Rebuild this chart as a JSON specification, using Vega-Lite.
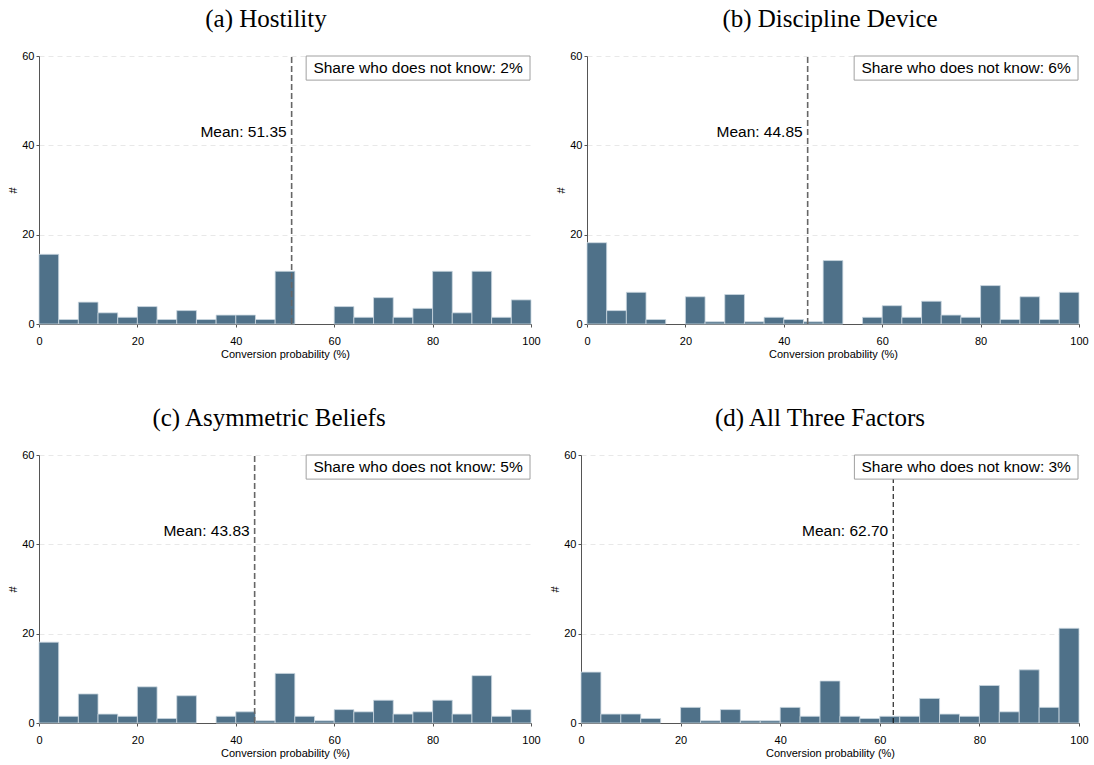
{
  "$schema": "https://vega.github.io/schema/vega-lite/v6.json",
  "background": "white",
  "padding": {"left": 7, "top": 7, "right": 4, "bottom": 4},
  "datasets": {
    "bars": [
      {"panel": "a", "lo": 0, "hi": 4, "count": 15.6},
      {"panel": "a", "lo": 4, "hi": 8, "count": 1.0},
      {"panel": "a", "lo": 8, "hi": 12, "count": 4.9},
      {"panel": "a", "lo": 12, "hi": 16, "count": 2.5},
      {"panel": "a", "lo": 16, "hi": 20, "count": 1.5},
      {"panel": "a", "lo": 20, "hi": 24, "count": 3.9},
      {"panel": "a", "lo": 24, "hi": 28, "count": 1.0},
      {"panel": "a", "lo": 28, "hi": 32, "count": 3.0},
      {"panel": "a", "lo": 32, "hi": 36, "count": 1.0},
      {"panel": "a", "lo": 36, "hi": 40, "count": 2.0},
      {"panel": "a", "lo": 40, "hi": 44, "count": 2.0},
      {"panel": "a", "lo": 44, "hi": 48, "count": 1.0},
      {"panel": "a", "lo": 48, "hi": 52, "count": 11.8},
      {"panel": "a", "lo": 60, "hi": 64, "count": 3.9},
      {"panel": "a", "lo": 64, "hi": 68, "count": 1.5},
      {"panel": "a", "lo": 68, "hi": 72, "count": 5.9},
      {"panel": "a", "lo": 72, "hi": 76, "count": 1.5},
      {"panel": "a", "lo": 76, "hi": 80, "count": 3.5},
      {"panel": "a", "lo": 80, "hi": 84, "count": 11.8},
      {"panel": "a", "lo": 84, "hi": 88, "count": 2.5},
      {"panel": "a", "lo": 88, "hi": 92, "count": 11.8},
      {"panel": "a", "lo": 92, "hi": 96, "count": 1.5},
      {"panel": "a", "lo": 96, "hi": 100, "count": 5.4},

      {"panel": "b", "lo": 0, "hi": 4, "count": 18.2},
      {"panel": "b", "lo": 4, "hi": 8, "count": 3.0},
      {"panel": "b", "lo": 8, "hi": 12, "count": 7.1},
      {"panel": "b", "lo": 12, "hi": 16, "count": 1.0},
      {"panel": "b", "lo": 20, "hi": 24, "count": 6.1},
      {"panel": "b", "lo": 24, "hi": 28, "count": 0.5},
      {"panel": "b", "lo": 28, "hi": 32, "count": 6.6},
      {"panel": "b", "lo": 32, "hi": 36, "count": 0.5},
      {"panel": "b", "lo": 36, "hi": 40, "count": 1.5},
      {"panel": "b", "lo": 40, "hi": 44, "count": 1.0},
      {"panel": "b", "lo": 44, "hi": 48, "count": 0.5},
      {"panel": "b", "lo": 48, "hi": 52, "count": 14.2},
      {"panel": "b", "lo": 56, "hi": 60, "count": 1.5},
      {"panel": "b", "lo": 60, "hi": 64, "count": 4.1},
      {"panel": "b", "lo": 64, "hi": 68, "count": 1.5},
      {"panel": "b", "lo": 68, "hi": 72, "count": 5.1},
      {"panel": "b", "lo": 72, "hi": 76, "count": 2.0},
      {"panel": "b", "lo": 76, "hi": 80, "count": 1.5},
      {"panel": "b", "lo": 80, "hi": 84, "count": 8.6},
      {"panel": "b", "lo": 84, "hi": 88, "count": 1.0},
      {"panel": "b", "lo": 88, "hi": 92, "count": 6.1},
      {"panel": "b", "lo": 92, "hi": 96, "count": 1.0},
      {"panel": "b", "lo": 96, "hi": 100, "count": 7.1},

      {"panel": "c", "lo": 0, "hi": 4, "count": 18.1},
      {"panel": "c", "lo": 4, "hi": 8, "count": 1.5},
      {"panel": "c", "lo": 8, "hi": 12, "count": 6.5},
      {"panel": "c", "lo": 12, "hi": 16, "count": 2.0},
      {"panel": "c", "lo": 16, "hi": 20, "count": 1.5},
      {"panel": "c", "lo": 20, "hi": 24, "count": 8.1},
      {"panel": "c", "lo": 24, "hi": 28, "count": 1.0},
      {"panel": "c", "lo": 28, "hi": 32, "count": 6.1},
      {"panel": "c", "lo": 36, "hi": 40, "count": 1.5},
      {"panel": "c", "lo": 40, "hi": 44, "count": 2.5},
      {"panel": "c", "lo": 44, "hi": 48, "count": 0.5},
      {"panel": "c", "lo": 48, "hi": 52, "count": 11.1},
      {"panel": "c", "lo": 52, "hi": 56, "count": 1.5},
      {"panel": "c", "lo": 56, "hi": 60, "count": 0.5},
      {"panel": "c", "lo": 60, "hi": 64, "count": 3.0},
      {"panel": "c", "lo": 64, "hi": 68, "count": 2.5},
      {"panel": "c", "lo": 68, "hi": 72, "count": 5.1},
      {"panel": "c", "lo": 72, "hi": 76, "count": 2.0},
      {"panel": "c", "lo": 76, "hi": 80, "count": 2.5},
      {"panel": "c", "lo": 80, "hi": 84, "count": 5.1},
      {"panel": "c", "lo": 84, "hi": 88, "count": 2.0},
      {"panel": "c", "lo": 88, "hi": 92, "count": 10.6},
      {"panel": "c", "lo": 92, "hi": 96, "count": 1.5},
      {"panel": "c", "lo": 96, "hi": 100, "count": 3.0},

      {"panel": "d", "lo": 0, "hi": 4, "count": 11.4},
      {"panel": "d", "lo": 4, "hi": 8, "count": 2.0},
      {"panel": "d", "lo": 8, "hi": 12, "count": 2.0},
      {"panel": "d", "lo": 12, "hi": 16, "count": 1.0},
      {"panel": "d", "lo": 20, "hi": 24, "count": 3.5},
      {"panel": "d", "lo": 24, "hi": 28, "count": 0.5},
      {"panel": "d", "lo": 28, "hi": 32, "count": 3.0},
      {"panel": "d", "lo": 32, "hi": 36, "count": 0.5},
      {"panel": "d", "lo": 36, "hi": 40, "count": 0.5},
      {"panel": "d", "lo": 40, "hi": 44, "count": 3.5},
      {"panel": "d", "lo": 44, "hi": 48, "count": 1.5},
      {"panel": "d", "lo": 48, "hi": 52, "count": 9.4},
      {"panel": "d", "lo": 52, "hi": 56, "count": 1.5},
      {"panel": "d", "lo": 56, "hi": 60, "count": 1.0},
      {"panel": "d", "lo": 60, "hi": 64, "count": 1.5},
      {"panel": "d", "lo": 64, "hi": 68, "count": 1.5},
      {"panel": "d", "lo": 68, "hi": 72, "count": 5.5},
      {"panel": "d", "lo": 72, "hi": 76, "count": 2.0},
      {"panel": "d", "lo": 76, "hi": 80, "count": 1.5},
      {"panel": "d", "lo": 80, "hi": 84, "count": 8.4},
      {"panel": "d", "lo": 84, "hi": 88, "count": 2.5},
      {"panel": "d", "lo": 88, "hi": 92, "count": 11.9},
      {"panel": "d", "lo": 92, "hi": 96, "count": 3.5},
      {"panel": "d", "lo": 96, "hi": 100, "count": 21.2}
    ],
    "meta": [
      {"panel": "a", "mean": 51.35, "meanLabel": "Mean: 51.35", "dkLabel": "Share who does not know: 2%"},
      {"panel": "b", "mean": 44.85, "meanLabel": "Mean: 44.85", "dkLabel": "Share who does not know: 6%"},
      {"panel": "c", "mean": 43.83, "meanLabel": "Mean: 43.83", "dkLabel": "Share who does not know: 5%"},
      {"panel": "d", "mean": 62.70, "meanLabel": "Mean: 62.70", "dkLabel": "Share who does not know: 3%"}
    ]
  },
  "config": {
    "view": {"stroke": null},
    "title": {"font": "Liberation Serif", "fontSize": 25, "fontWeight": "normal", "color": "#000000", "anchor": "middle", "frame": "group", "baseline": "alphabetic", "offset": 18},
    "axis": {
      "labelFont": "Liberation Sans", "titleFont": "Liberation Sans",
      "labelFontSize": 11, "titleFontSize": 11, "titleFontWeight": "normal",
      "labelColor": "#000000", "titleColor": "#000000",
      "domainColor": "#555555", "tickColor": "#555555", "tickSize": 3,
      "labelPadding": 2
    },
    "axisX": {"grid": false, "labelFlush": false, "labelPadding": 8, "titlePadding": 2},
    "axisY": {"gridColor": "#e8e8e8", "gridDash": [5, 4], "titlePadding": 3, "titleAngle": -90}
  },
  "vconcat": [
    {
      "hconcat": [
        {
          "title": {"text": "(a) Hostility", "dx": -19},
          "width": 492, "height": 268,
          "layer": [
            {"data": {"name": "bars"}, "transform": [{"filter": "datum.panel === 'a'"}],
             "mark": {"type": "rect", "fill": "#4f7189", "stroke": "#ccd8e1", "strokeWidth": 0.8},
             "encoding": {
               "x": {"field": "lo", "type": "quantitative", "scale": {"domain": [0, 100], "nice": false}, "axis": {"values": [0, 20, 40, 60, 80, 100], "title": "Conversion probability (%)"}},
               "x2": {"field": "hi"},
               "y": {"field": "count", "type": "quantitative", "scale": {"domain": [0, 60], "nice": false}, "axis": {"values": [0, 20, 40, 60], "title": "#"}},
               "y2": {"datum": 0}
             }},
            {"data": {"name": "meta"}, "transform": [{"filter": "datum.panel === 'a'"}],
             "mark": {"type": "rule", "color": "#666666", "strokeWidth": 1.6, "strokeDash": [6, 3]},
             "encoding": {"x": {"field": "mean", "type": "quantitative"}, "y": {"datum": 0}, "y2": {"datum": 60}}},
            {"data": {"name": "meta"}, "transform": [{"filter": "datum.panel === 'a'"}],
             "mark": {"type": "text", "align": "right", "baseline": "middle", "dx": -5, "font": "Liberation Sans", "fontSize": 15.5, "color": "#000000"},
             "encoding": {"x": {"field": "mean", "type": "quantitative"}, "y": {"datum": 43}, "text": {"field": "meanLabel"}}},
            {"data": {"name": "meta"}, "transform": [{"filter": "datum.panel === 'a'"}],
             "mark": {"type": "rect", "fill": "white", "stroke": "#a0a0a0", "strokeWidth": 1},
             "encoding": {"x": {"datum": 54.3}, "x2": {"datum": 99.8}, "y": {"datum": 60}, "y2": {"datum": 54.6}}},
            {"data": {"name": "meta"}, "transform": [{"filter": "datum.panel === 'a'"}],
             "mark": {"type": "text", "align": "center", "baseline": "middle", "font": "Liberation Sans", "fontSize": 15.5, "color": "#000000"},
             "encoding": {"x": {"datum": 77.05}, "y": {"datum": 57.3}, "text": {"field": "dkLabel"}}}
          ]
        },
        {
          "title": {"text": "(b) Discipline Device", "dx": -3},
          "width": 492, "height": 268,
          "layer": [
            {"data": {"name": "bars"}, "transform": [{"filter": "datum.panel === 'b'"}],
             "mark": {"type": "rect", "fill": "#4f7189", "stroke": "#ccd8e1", "strokeWidth": 0.8},
             "encoding": {
               "x": {"field": "lo", "type": "quantitative", "scale": {"domain": [0, 100], "nice": false}, "axis": {"values": [0, 20, 40, 60, 80, 100], "title": "Conversion probability (%)"}},
               "x2": {"field": "hi"},
               "y": {"field": "count", "type": "quantitative", "scale": {"domain": [0, 60], "nice": false}, "axis": {"values": [0, 20, 40, 60], "title": "#"}},
               "y2": {"datum": 0}
             }},
            {"data": {"name": "meta"}, "transform": [{"filter": "datum.panel === 'b'"}],
             "mark": {"type": "rule", "color": "#666666", "strokeWidth": 1.6, "strokeDash": [6, 3]},
             "encoding": {"x": {"field": "mean", "type": "quantitative"}, "y": {"datum": 0}, "y2": {"datum": 60}}},
            {"data": {"name": "meta"}, "transform": [{"filter": "datum.panel === 'b'"}],
             "mark": {"type": "text", "align": "right", "baseline": "middle", "dx": -5, "font": "Liberation Sans", "fontSize": 15.5, "color": "#000000"},
             "encoding": {"x": {"field": "mean", "type": "quantitative"}, "y": {"datum": 43}, "text": {"field": "meanLabel"}}},
            {"data": {"name": "meta"}, "transform": [{"filter": "datum.panel === 'b'"}],
             "mark": {"type": "rect", "fill": "white", "stroke": "#a0a0a0", "strokeWidth": 1},
             "encoding": {"x": {"datum": 54.3}, "x2": {"datum": 99.8}, "y": {"datum": 60}, "y2": {"datum": 54.6}}},
            {"data": {"name": "meta"}, "transform": [{"filter": "datum.panel === 'b'"}],
             "mark": {"type": "text", "align": "center", "baseline": "middle", "font": "Liberation Sans", "fontSize": 15.5, "color": "#000000"},
             "encoding": {"x": {"datum": 77.05}, "y": {"datum": 57.3}, "text": {"field": "dkLabel"}}}
          ]
        }
      ],
      "spacing": 14
    },
    {
      "hconcat": [
        {
          "title": {"text": "(c) Asymmetric Beliefs", "dx": -16},
          "width": 492, "height": 268,
          "layer": [
            {"data": {"name": "bars"}, "transform": [{"filter": "datum.panel === 'c'"}],
             "mark": {"type": "rect", "fill": "#4f7189", "stroke": "#ccd8e1", "strokeWidth": 0.8},
             "encoding": {
               "x": {"field": "lo", "type": "quantitative", "scale": {"domain": [0, 100], "nice": false}, "axis": {"values": [0, 20, 40, 60, 80, 100], "title": "Conversion probability (%)"}},
               "x2": {"field": "hi"},
               "y": {"field": "count", "type": "quantitative", "scale": {"domain": [0, 60], "nice": false}, "axis": {"values": [0, 20, 40, 60], "title": "#"}},
               "y2": {"datum": 0}
             }},
            {"data": {"name": "meta"}, "transform": [{"filter": "datum.panel === 'c'"}],
             "mark": {"type": "rule", "color": "#666666", "strokeWidth": 1.6, "strokeDash": [6, 3]},
             "encoding": {"x": {"field": "mean", "type": "quantitative"}, "y": {"datum": 0}, "y2": {"datum": 60}}},
            {"data": {"name": "meta"}, "transform": [{"filter": "datum.panel === 'c'"}],
             "mark": {"type": "text", "align": "right", "baseline": "middle", "dx": -5, "font": "Liberation Sans", "fontSize": 15.5, "color": "#000000"},
             "encoding": {"x": {"field": "mean", "type": "quantitative"}, "y": {"datum": 43}, "text": {"field": "meanLabel"}}},
            {"data": {"name": "meta"}, "transform": [{"filter": "datum.panel === 'c'"}],
             "mark": {"type": "rect", "fill": "white", "stroke": "#a0a0a0", "strokeWidth": 1},
             "encoding": {"x": {"datum": 54.3}, "x2": {"datum": 99.8}, "y": {"datum": 60}, "y2": {"datum": 54.6}}},
            {"data": {"name": "meta"}, "transform": [{"filter": "datum.panel === 'c'"}],
             "mark": {"type": "text", "align": "center", "baseline": "middle", "font": "Liberation Sans", "fontSize": 15.5, "color": "#000000"},
             "encoding": {"x": {"datum": 77.05}, "y": {"datum": 57.3}, "text": {"field": "dkLabel"}}}
          ]
        },
        {
          "title": {"text": "(d) All Three Factors", "dx": -10},
          "width": 498, "height": 268,
          "layer": [
            {"data": {"name": "bars"}, "transform": [{"filter": "datum.panel === 'd'"}],
             "mark": {"type": "rect", "fill": "#4f7189", "stroke": "#ccd8e1", "strokeWidth": 0.8},
             "encoding": {
               "x": {"field": "lo", "type": "quantitative", "scale": {"domain": [0, 100], "nice": false}, "axis": {"values": [0, 20, 40, 60, 80, 100], "title": "Conversion probability (%)"}},
               "x2": {"field": "hi"},
               "y": {"field": "count", "type": "quantitative", "scale": {"domain": [0, 60], "nice": false}, "axis": {"values": [0, 20, 40, 60], "title": "#"}},
               "y2": {"datum": 0}
             }},
            {"data": {"name": "meta"}, "transform": [{"filter": "datum.panel === 'd'"}],
             "mark": {"type": "rule", "color": "#111111", "strokeWidth": 1.1, "strokeDash": [5, 3]},
             "encoding": {"x": {"field": "mean", "type": "quantitative"}, "y": {"datum": 0}, "y2": {"datum": 60}}},
            {"data": {"name": "meta"}, "transform": [{"filter": "datum.panel === 'd'"}],
             "mark": {"type": "text", "align": "right", "baseline": "middle", "dx": -5, "font": "Liberation Sans", "fontSize": 15.5, "color": "#000000"},
             "encoding": {"x": {"field": "mean", "type": "quantitative"}, "y": {"datum": 43}, "text": {"field": "meanLabel"}}},
            {"data": {"name": "meta"}, "transform": [{"filter": "datum.panel === 'd'"}],
             "mark": {"type": "rect", "fill": "white", "stroke": "#a0a0a0", "strokeWidth": 1},
             "encoding": {"x": {"datum": 54.9}, "x2": {"datum": 99.8}, "y": {"datum": 60}, "y2": {"datum": 54.6}}},
            {"data": {"name": "meta"}, "transform": [{"filter": "datum.panel === 'd'"}],
             "mark": {"type": "text", "align": "center", "baseline": "middle", "font": "Liberation Sans", "fontSize": 15.5, "color": "#000000"},
             "encoding": {"x": {"datum": 77.35}, "y": {"datum": 57.3}, "text": {"field": "dkLabel"}}}
          ]
        }
      ],
      "spacing": 8
    }
  ],
  "spacing": 47
}
